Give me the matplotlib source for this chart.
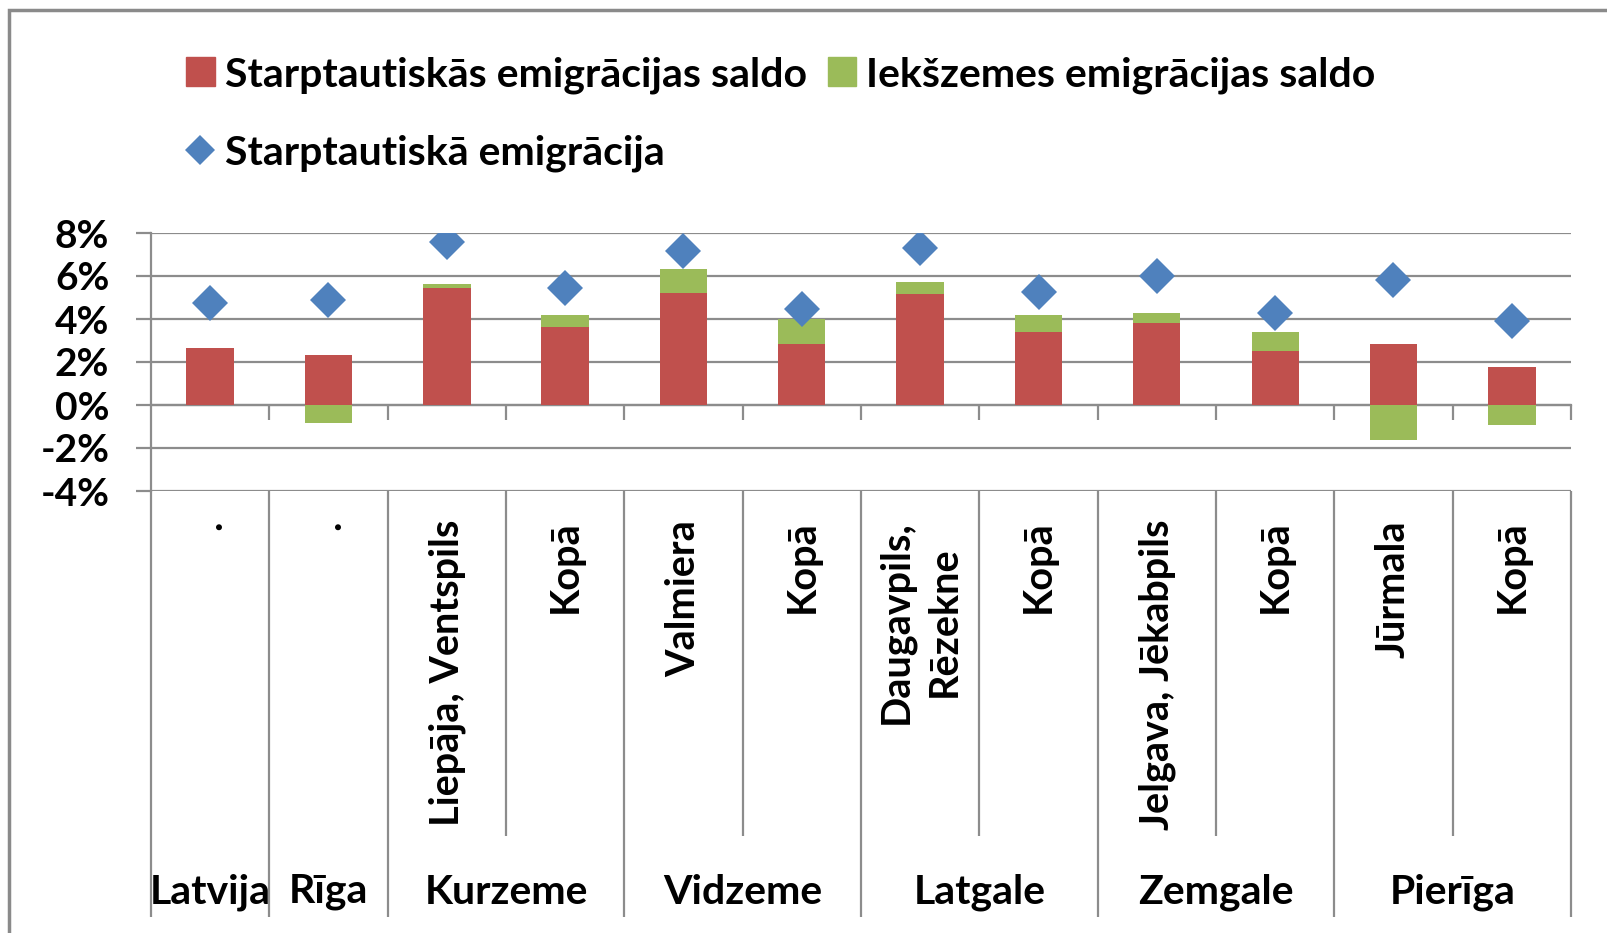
import numpy as np
import matplotlib.pyplot as plt
from matplotlib import transforms
from matplotlib.patches import Patch, Rectangle
from matplotlib.lines import Line2D

plt.rcParams['font.family'] = ['Lato', 'DejaVu Sans']
plt.rcParams['font.weight'] = 'bold'

# data (percent)
regions = ['Latvija', 'Rīga', 'Kurzeme', 'Vidzeme', 'Latgale', 'Zemgale', 'Pierīga']
region_span = [1, 1, 2, 2, 2, 2, 2]
sub_labels = ['.', '.', 'Liepāja, Ventspils', 'Kopā', 'Valmiera', 'Kopā',
              'Daugavpils,\nRēzekne', 'Kopā', 'Jelgava, Jēkabpils', 'Kopā',
              'Jūrmala', 'Kopā']
intl_saldo = [2.64, 2.34, 5.45, 3.61, 5.23, 2.83, 5.14, 3.41, 3.80, 2.53, 2.83, 1.77]
domestic_saldo = [0.0, -0.83, 0.19, 0.58, 1.08, 1.19, 0.59, 0.78, 0.48, 0.88, -1.63, -0.94]
intl_emigration = [4.75, 4.87, 7.56, 5.45, 7.17, 4.47, 7.28, 5.25, 6.02, 4.28, 5.83, 3.91]

RED = '#C0504D'
GREEN = '#9BBB59'
BLUE = '#4F81BD'
GRID = '#8C8C8C'

W, H = 1608, 933
fig = plt.figure(figsize=(W / 100, H / 100), dpi=100)
ax = fig.add_axes([151 / W, 1 - 491 / H, 1420 / W, 258 / H])

x = np.arange(len(sub_labels))
intl = np.array(intl_saldo)
dom = np.array(domestic_saldo)
dom_bottom = np.where(dom >= 0, intl, 0)

ax.bar(x, intl, width=0.4, color=RED, zorder=3)
ax.bar(x, dom, width=0.4, bottom=dom_bottom, color=GREEN, zorder=3)
ax.plot(x, intl_emigration, linestyle='none', marker='D', markersize=18,
        color=BLUE, markeredgewidth=0, zorder=4)

ax.set_xlim(-0.5, len(sub_labels) - 0.5)
ax.set_ylim(-4, 8)
ax.set_yticks(np.arange(-4, 9, 2))
ax.set_yticklabels([f'{v}%' for v in range(-4, 9, 2)])
ax.yaxis.grid(True, color=GRID, linewidth=1.6, zorder=0)
ax.tick_params(axis='y', direction='out', length=11, width=1.6, color=GRID,
               pad=19, labelsize=28)

for s in ['top', 'right']:
    ax.spines[s].set_visible(False)
ax.spines['left'].set_color(GRID)
ax.spines['left'].set_linewidth(1.6)
ax.spines['bottom'].set_position(('data', 0))
ax.spines['bottom'].set_color(GRID)
ax.spines['bottom'].set_linewidth(1.6)

ax.set_xticks(x)
ax.set_xticks(np.arange(0.5, len(sub_labels), 1), minor=True)
ax.tick_params(axis='x', which='major', length=0, labelbottom=False)
ax.tick_params(axis='x', which='minor', direction='out', length=11, width=1.6,
               color=GRID)

# category separators below the plot area
tr = transforms.blended_transform_factory(ax.transData, fig.transFigure)
inner = []
outer = [-0.5]
pos = -0.5
centers = []
for span in region_span:
    centers.append(pos + span / 2)
    if span == 2:
        inner.append(pos + 1)
    pos += span
    outer.append(pos)
ax.vlines(outer, 1 - 917 / H, 1 - 491 / H, transform=tr, color=GRID,
          linewidth=1.6, clip_on=False)
ax.vlines(inner, 1 - 836 / H, 1 - 491 / H, transform=tr, color=GRID,
          linewidth=1.6, clip_on=False)

for xi, lab in zip(x, sub_labels):
    ax.text(xi, 1 - 520 / H, lab, transform=tr, rotation=90, ha='center',
            va='top', fontsize=28.5, multialignment='center',
            linespacing=1.35)
for c, reg in zip(centers, regions):
    ax.text(c, 1 - 892 / H, reg, transform=tr, ha='center', va='center',
            fontsize=29.5)

# legend
handles = [Patch(color=RED, label='Starptautiskās emigrācijas saldo'),
           Line2D([], [], linestyle='none', marker='D', markersize=15, color=BLUE,
                  markeredgewidth=0, label='Starptautiskā emigrācija'),
           Patch(color=GREEN, label='Iekšzemes emigrācijas saldo')]
fig.legend(handles=handles, ncol=2, loc='upper left',
           bbox_to_anchor=(186 / W, 1 - 56 / H), frameon=False, fontsize=29.5,
           handlelength=0.7, handleheight=0.7, handletextpad=0.25,
           columnspacing=0.5, labelspacing=1.0, borderaxespad=0, borderpad=0)

# outer chart frame
fig.patches.append(Rectangle((9 / W, -0.2), 1.5, 1.2 - 9.5 / H,
                             transform=fig.transFigure, fill=False,
                             edgecolor='#8A8A8A', linewidth=2.5))

fig.savefig('out.png', dpi=100)
